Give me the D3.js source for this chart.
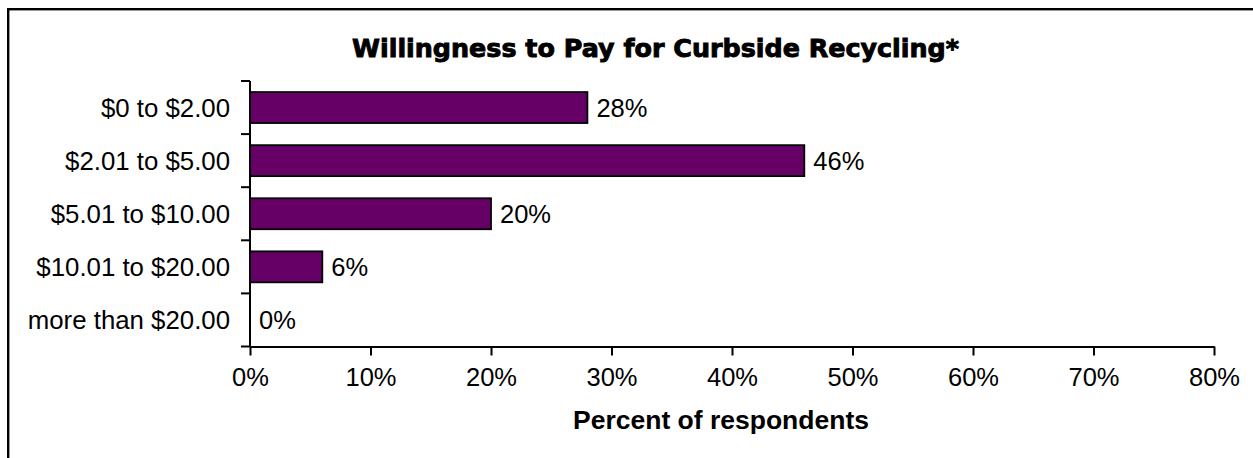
<!DOCTYPE html>
<html>
<head>
<meta charset="utf-8">
<script src="https://cdn.jsdelivr.net/npm/d3@7"></script>
<style>
  html, body { margin: 0; padding: 0; background: #fff; }
  svg { display: block; }
  text { font-family: "Liberation Sans", Arial, sans-serif; fill: #000; }
</style>
</head>
<body>
<svg id="chart" width="1253" height="458"></svg>
<script>
// Monthly fee respondents would pay for curbside recycling
const categories = ["$0 to $2.00", "$2.01 to $5.00", "$5.01 to $10.00", "$10.01 to $20.00", "more than $20.00"];
const percents = [28, 46, 20, 6, 0];
const tickValues = [0, 10, 20, 30, 40, 50, 60, 70, 80];
const chartTitle = "Willingness to Pay for Curbside Recycling*";
const xTitle = "Percent of respondents";

const svg = d3.select("#chart");

// outer frame (extends past the visible area on the right and bottom)
svg.append("rect")
  .attr("x", 8.2).attr("y", 9.2)
  .attr("width", 1400).attr("height", 600)
  .attr("fill", "none").attr("stroke", "#000").attr("stroke-width", 2.4);

const x = d3.scaleLinear().domain([0, 80]).range([250, 1214]);
const y = d3.scaleBand().domain(categories).range([81, 346.5])
  .paddingInner(0.417).paddingOuter(0.2085);

// bars
svg.append("g").selectAll("rect")
  .data(categories.map((c, i) => ({ c, v: percents[i] })))
  .join("rect")
  .attr("x", x(0))
  .attr("y", d => y(d.c))
  .attr("width", d => x(d.v) - x(0))
  .attr("height", y.bandwidth())
  .attr("fill", "#660066")
  .attr("stroke", "#000")
  .attr("stroke-width", d => d.v > 0 ? 1.8 : 0);

// value labels
svg.append("g").selectAll("text")
  .data(categories.map((c, i) => ({ c, v: percents[i] })))
  .join("text")
  .attr("x", d => x(d.v) + 9)
  .attr("y", d => y(d.c) + y.bandwidth() / 2)
  .attr("dy", "0.36em")
  .style("font-size", "25.5px")
  .text(d => d.v + "%");

// y axis: line with ticks between categories
const yAxisG = svg.append("g").attr("stroke", "#000").attr("stroke-width", 2);
yAxisG.append("line")
  .attr("x1", x(0)).attr("x2", x(0))
  .attr("y1", 81).attr("y2", 346.5);
const boundaries = categories.map(c => y(c) - y.step() * y.paddingInner() / 2)
  .concat([346.5]);
boundaries[0] = 81;
yAxisG.selectAll("line.tick").data(boundaries).join("line")
  .attr("class", "tick")
  .attr("x1", x(0) - 9).attr("x2", x(0))
  .attr("y1", d => d).attr("y2", d => d);

// category labels
svg.append("g").selectAll("text")
  .data(categories)
  .join("text")
  .attr("x", 230)
  .attr("y", d => y(d) + y.bandwidth() / 2)
  .attr("dy", "0.36em")
  .attr("text-anchor", "end")
  .style("font-size", "25.8px")
  .text(d => d);

// x axis
const xAxisG = svg.append("g")
  .attr("transform", "translate(0,346.5)")
  .call(d3.axisBottom(x).tickValues(tickValues).tickFormat(d => d + "%")
    .tickSize(9).tickSizeOuter(0).tickPadding(12));
xAxisG.select(".domain").attr("stroke", "#000").attr("stroke-width", 2);
xAxisG.selectAll(".tick line").attr("stroke", "#000").attr("stroke-width", 2);
xAxisG.selectAll(".tick text")
  .attr("fill", "#000")
  .style("font-family", "'Liberation Sans', Arial, sans-serif")
  .style("font-size", "25.5px");

// axis title
svg.append("text")
  .attr("x", 721).attr("y", 428.5)
  .attr("text-anchor", "middle")
  .style("font-size", "26.5px")
  .style("font-weight", "bold")
  .text(xTitle);

// chart title (heavy face)
svg.append("text")
  .attr("x", 352).attr("y", 56.5)
  .attr("textLength", 607)
  .attr("lengthAdjust", "spacingAndGlyphs")
  .style("font-family", "'DejaVu Sans', sans-serif")
  .style("font-size", "25px")
  .style("font-weight", "bold")
  .attr("stroke", "#000")
  .attr("stroke-width", 0.9)
  .text(chartTitle);
</script>
</body>
</html>
